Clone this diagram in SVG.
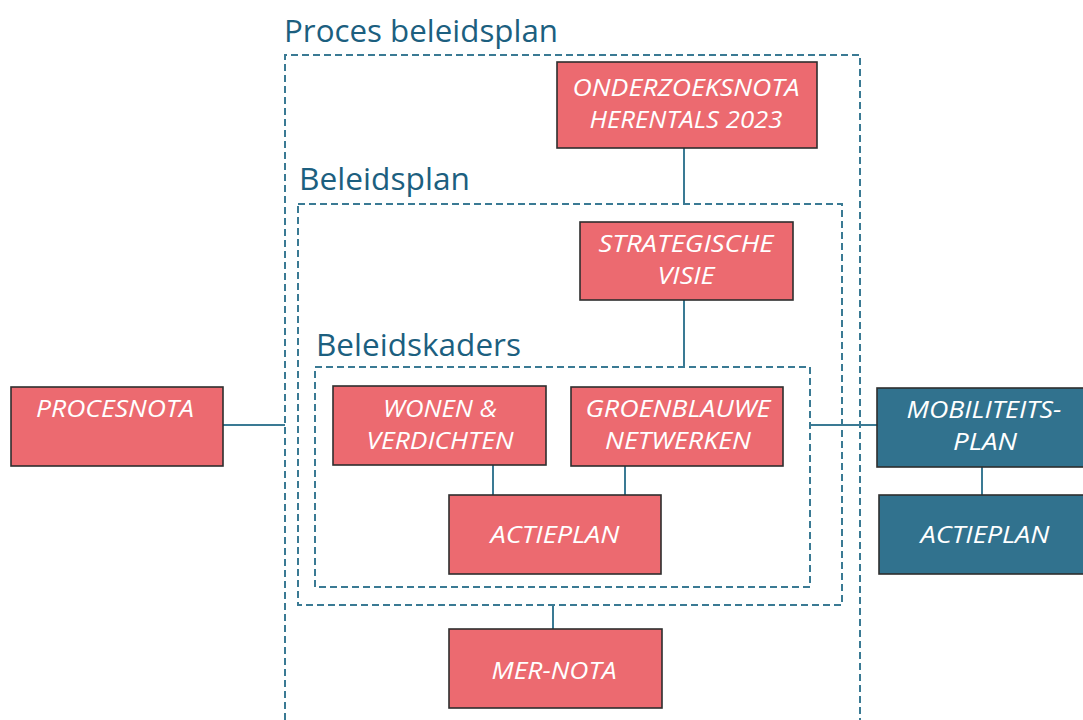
<svg xmlns="http://www.w3.org/2000/svg" width="1083" height="720" viewBox="0 0 1083 720">
<style>
.bg{fill:#ffffff}
.frame{fill:none;stroke:#3a7a94;stroke-width:2;stroke-dasharray:7 4}
.title{font-family:"Open Sans","Liberation Sans",sans-serif;font-size:31px;fill:#1c5f7f}
.pink{fill:#ec6a70;stroke:#2e2e2e;stroke-width:1.6}
.teal{fill:#31728e;stroke:#2e2e2e;stroke-width:1.6}
.lbl{font-family:"Open Sans","Liberation Sans",sans-serif;font-style:italic;font-size:23px;fill:#ffffff;text-anchor:middle}
.conn{stroke:#3a7a94;stroke-width:2;fill:none}
</style>
<rect class="bg" x="0" y="0" width="1083" height="720"/>
<g id="frames">
<path class="frame" d="M285 720 V55 H860 V720"/>
<rect class="frame" x="298" y="204" width="544" height="401"/>
<rect class="frame" x="315" y="367" width="495" height="220"/>
<text class="title" x="284" y="42" textLength="274" lengthAdjust="spacingAndGlyphs">Proces beleidsplan</text>
<text class="title" x="299" y="190" textLength="171" lengthAdjust="spacingAndGlyphs">Beleidsplan</text>
<text class="title" x="316" y="356" textLength="205" lengthAdjust="spacingAndGlyphs">Beleidskaders</text>
</g>
<g id="connectors">
<line class="conn" x1="684" y1="148" x2="684" y2="204"/>
<line class="conn" x1="684" y1="300" x2="684" y2="367"/>
<line class="conn" x1="223" y1="425" x2="285" y2="425"/>
<line class="conn" x1="810" y1="425" x2="877" y2="425"/>
<line class="conn" x1="493" y1="465" x2="493" y2="495"/>
<line class="conn" x1="625" y1="466" x2="625" y2="495"/>
<line class="conn" x1="982" y1="467" x2="982" y2="495"/>
<line class="conn" x1="553" y1="605" x2="553" y2="629"/>
</g>
<g id="onderzoeksnota">
<rect class="pink" x="557" y="62" width="260" height="86"/>
<text class="lbl" x="686" y="96" textLength="227" lengthAdjust="spacingAndGlyphs">ONDERZOEKSNOTA</text>
<text class="lbl" x="686" y="128" textLength="193" lengthAdjust="spacingAndGlyphs">HERENTALS 2023</text>
</g>
<g id="strategische-visie">
<rect class="pink" x="580" y="222" width="213" height="78"/>
<text class="lbl" x="686" y="252" textLength="175" lengthAdjust="spacingAndGlyphs">STRATEGISCHE</text>
<text class="lbl" x="686" y="284" textLength="57" lengthAdjust="spacingAndGlyphs">VISIE</text>
</g>
<g id="procesnota">
<rect class="pink" x="11" y="387" width="212" height="79"/>
<text class="lbl" x="115" y="417" textLength="158" lengthAdjust="spacingAndGlyphs">PROCESNOTA</text>
</g>
<g id="wonen">
<rect class="pink" x="333" y="386" width="213" height="79"/>
<text class="lbl" x="440" y="417" textLength="114" lengthAdjust="spacingAndGlyphs">WONEN &amp;</text>
<text class="lbl" x="440" y="449" textLength="147" lengthAdjust="spacingAndGlyphs">VERDICHTEN</text>
</g>
<g id="groenblauwe">
<rect class="pink" x="571" y="387" width="212" height="79"/>
<text class="lbl" x="678" y="417" textLength="185" lengthAdjust="spacingAndGlyphs">GROENBLAUWE</text>
<text class="lbl" x="678" y="449" textLength="146" lengthAdjust="spacingAndGlyphs">NETWERKEN</text>
</g>
<g id="actieplan">
<rect class="pink" x="449" y="495" width="212" height="79"/>
<text class="lbl" x="555" y="543" textLength="129" lengthAdjust="spacingAndGlyphs">ACTIEPLAN</text>
</g>
<g id="mobiliteitsplan">
<rect class="teal" x="877" y="388" width="210" height="79"/>
<text class="lbl" x="984" y="418" textLength="155" lengthAdjust="spacingAndGlyphs">MOBILITEITS-</text>
<text class="lbl" x="985" y="450" textLength="64" lengthAdjust="spacingAndGlyphs">PLAN</text>
</g>
<g id="actieplan-mobiliteit">
<rect class="teal" x="879" y="495" width="208" height="79"/>
<text class="lbl" x="985" y="543" textLength="129" lengthAdjust="spacingAndGlyphs">ACTIEPLAN</text>
</g>
<g id="mer-nota">
<rect class="pink" x="449" y="629" width="213" height="79"/>
<text class="lbl" x="554" y="679" textLength="125" lengthAdjust="spacingAndGlyphs">MER-NOTA</text>
</g>
</svg>
